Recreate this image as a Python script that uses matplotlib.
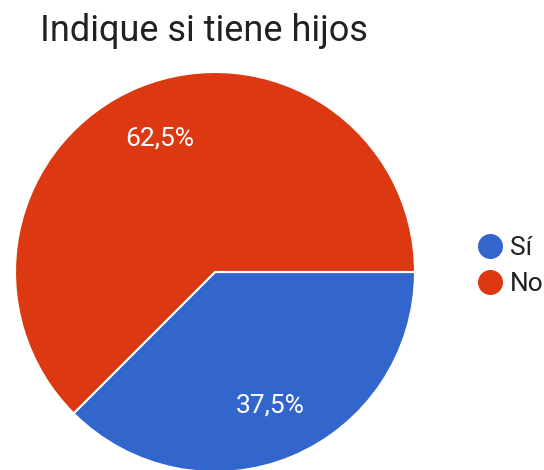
import matplotlib.pyplot as plt
from matplotlib.lines import Line2D

# Data
labels = ['Sí', 'No']
values = [37.5, 62.5]
colors = ['#3366cc', '#dc3912']
title = 'Indique si tiene hijos'

plt.rcParams['font.family'] = ['Roboto', 'DejaVu Sans']

fig = plt.figure(figsize=(5.44, 4.70), dpi=100)
ax = fig.add_axes([15 / 544, -2 / 470, 400 / 544, 400 / 470])


def pct_fmt(p):
    return f'{p:.1f}%'.replace('.', ',')


wedges, texts, autotexts = ax.pie(
    values, colors=colors, startangle=0, counterclock=False,
    autopct=pct_fmt, pctdistance=0.72,
    wedgeprops=dict(edgecolor='white', linewidth=1.5),
    textprops=dict(color='white', fontsize=19))
ax.set_xlim(-1.0, 1.0)
ax.set_ylim(-1.0, 1.0)
ax.set_aspect('equal')

fig.text(40 / 544, 1 - 31 / 470, title, fontsize=26, color='#212121',
         ha='left', va='center')

# Legend
handles = [Line2D([], [], marker='o', linestyle='', markersize=17,
                  markerfacecolor=c, markeredgecolor=c) for c in colors]
fig.legend(handles, labels, loc='center left',
           bbox_to_anchor=(464 / 544, 1 - 266 / 470), frameon=False,
           fontsize=19, labelcolor='#222222', handletextpad=0.25,
           handlelength=1.0, labelspacing=0.45, borderpad=0)

fig.savefig('out.png', dpi=100)
